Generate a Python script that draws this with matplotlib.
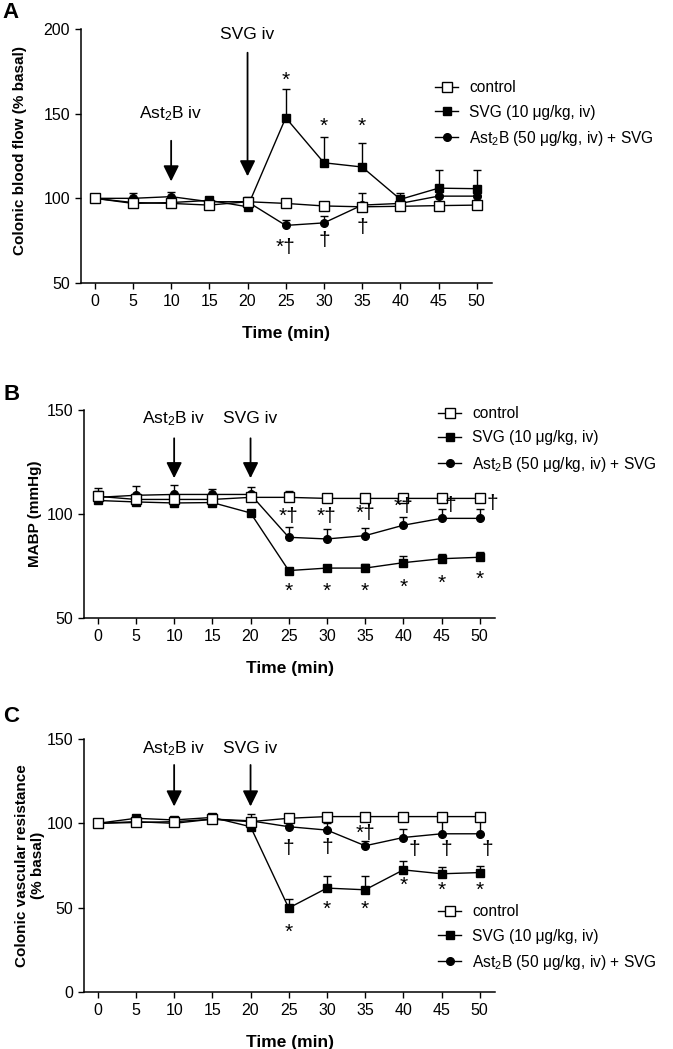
import matplotlib
matplotlib.use("Agg")
import matplotlib.pyplot as plt
import numpy as np

plt.rcParams['font.family'] = ['Liberation Sans', 'DejaVu Sans']
plt.rcParams['mathtext.default'] = 'regular'

# ---------------- data ----------------
time = [0, 5, 10, 15, 20, 25, 30, 35, 40, 45, 50]
labels = ['control', 'SVG (10 \u03bcg/kg, iv)', 'Ast$_2$B (50 \u03bcg/kg, iv) + SVG']

# A: colonic blood flow (% basal)
flow_ctrl = [100, 97.5, 97, 96, 98, 97, 95.5, 95, 95.3, 95.7, 96]
flow_ctrl_err = [0, 1, 1, 1, 2, 1, 1, 1, 1, 1, 1]
flow_svg = [100, 97, 97.5, 98.8, 95, 147.6, 121, 118.5, 99.4, 106, 105.7]
flow_svg_err = [0, 1, 1, 1, 1, 17, 15, 14, 4, 10.5, 11]
flow_ast = [100, 100, 101, 98, 98, 84, 85.5, 96, 97, 101.3, 101.3]
flow_ast_err = [0, 3, 2.5, 1, 3, 3.5, 4, 7, 3, 3, 3]

# B: MABP (mmHg)
mabp_ctrl = [108.5, 107, 107, 107, 108, 108, 107.5, 107.5, 107.5, 107.5, 107.5]
mabp_ctrl_err = [4, 2, 2, 2, 2, 3, 1, 1.5, 2, 2, 2]
mabp_svg = [106.5, 105.8, 105.3, 105.5, 100.5, 72.8, 74, 74, 76.6, 78.5, 79.2]
mabp_svg_err = [1, 1, 1, 1, 1, 1, 1, 2, 3, 2.3, 2.5]
mabp_ast = [108, 109, 109.4, 109.4, 109.4, 88.8, 88, 89.6, 94.6, 97.9, 97.9]
mabp_ast_err = [3, 4.7, 4.6, 2.4, 3.6, 5.1, 4.6, 3.5, 4.1, 4.3, 4.3]

# C: colonic vascular resistance (% basal)
cvr_ctrl = [100, 100.5, 101, 102.4, 101, 103, 104, 104, 104, 104, 104]
cvr_ctrl_err = [0, 1, 1, 1, 1, 2, 1, 1, 1, 1, 1]
cvr_svg = [100, 103, 102, 103.5, 98, 49.8, 61.6, 60.6, 72.4, 70.1, 70.8]
cvr_svg_err = [0, 1, 1, 1, 1, 5.3, 6.9, 8.3, 5, 3.9, 4]
cvr_ast = [100, 101, 100, 102.5, 101.5, 98, 96, 86.7, 91.6, 93.8, 93.8]
cvr_ast_err = [0, 1, 1, 1, 3.9, 1, 4, 3.1, 5.1, 10.2, 10.2]

# significance marks (time, value, text)
marks_a = [(25, 172, '*'), (30, 145, '*'), (35, 145, '*'),
           (25, 71, '*\u2020'), (30, 75, '\u2020'), (35, 83, '\u2020')]
marks_b = [(25, 98.7, '*\u2020'), (30, 98.7, '*\u2020'), (35, 100.3, '*\u2020'),
           (40, 103.5, '*\u2020'), (46.2, 104.3, '\u2020'), (51.6, 105.1, '\u2020'),
           (25, 65, '*'), (30, 65, '*'), (35, 65, '*'), (40, 66.7, '*'),
           (45, 68.6, '*'), (50, 70.7, '*')]
marks_c = [(25, 85.3, '\u2020'), (30, 85.8, '\u2020'), (35, 94.2, '*\u2020'),
           (41.4, 84.3, '\u2020'), (45.7, 84.3, '\u2020'), (51, 84.3, '\u2020'),
           (25, 37.9, '*'), (30, 51.7, '*'), (35, 51.7, '*'), (40, 65.5, '*'),
           (45, 62.6, '*'), (50, 62.6, '*')]

# ---------------- figure ----------------
fig = plt.figure(figsize=(6.73, 10.49), dpi=100)
W, H = 673, 1049


def px_axes(l, r, t, b):
    return fig.add_axes([l / W, 1 - b / H, (r - l) / W, (b - t) / H])


def panel(ax, ctrl, ce, svg, se, ast, ae, ylim, yticks, ylabel, marks,
          arrows, leg_y, letter):
    ax.errorbar(time, ast, yerr=[np.zeros(len(ae)), ae], fmt='none',
                ecolor='k', elinewidth=1, capsize=3, capthick=1)
    ax.errorbar(time, svg, yerr=[np.zeros(len(se)), se], fmt='none',
                ecolor='k', elinewidth=1, capsize=3, capthick=1)
    ax.errorbar(time, ctrl, yerr=[np.zeros(len(ce)), ce], fmt='none',
                ecolor='k', elinewidth=1, capsize=3, capthick=1)
    l3, = ax.plot(time, ast, color='k', lw=1, marker='o', ms=5.5,
                  mfc='k', mec='k', label=labels[2])
    l2, = ax.plot(time, svg, color='k', lw=1, marker='s', ms=5.5,
                  mfc='k', mec='k', label=labels[1])
    l1, = ax.plot(time, ctrl, color='k', lw=1, marker='s', ms=6.5,
                  mfc='white', mec='k', mew=1, label=labels[0])

    for x, y, t in marks:
        # a lone asterisk sits high in its glyph box, so nudge it down
        dy = -3 if t == '*' else 0
        ax.annotate(t, (x, y), xytext=(0, dy), textcoords='offset points',
                    ha='center', va='center', fontsize=15)

    for x, ytxt, y0, y1, txt in arrows:
        ax.text(x, ytxt, txt, ha='center', va='center', fontsize=12.5)
        ax.annotate('', xy=(x, y1), xytext=(x, y0),
                    arrowprops=dict(arrowstyle='-|>,head_length=0.95,head_width=0.47',
                                    color='k', lw=1.3, mutation_scale=10,
                                    shrinkA=0, shrinkB=0))

    ax.set_xlim(-1.8, 52)
    ax.set_ylim(*ylim)
    ax.set_xticks(time)
    ax.set_yticks(yticks)
    ax.tick_params(direction='out', length=4, width=1, labelsize=11.5, pad=4)
    for s in ['top', 'right']:
        ax.spines[s].set_visible(False)
    for s in ['left', 'bottom']:
        ax.spines[s].set_linewidth(1.1)
    ax.set_xlabel('Time (min)', fontsize=12.5, fontweight='bold', labelpad=12)
    ax.set_ylabel(ylabel, fontsize=11, fontweight='bold', ha='center')

    ax.legend(handles=[l1, l2, l3], loc='center left', bbox_to_anchor=(0.861, leg_y),
              frameon=False, fontsize=11.2, borderpad=0, borderaxespad=0,
              handlelength=1.5, handletextpad=0.7, labelspacing=0.6)
    return ax.text(-0.195, 1.04, letter, transform=ax.transAxes, fontsize=16,
                   fontweight='bold', va='baseline')


ax_a = px_axes(81, 492, 29, 283)
let_a = panel(ax_a, flow_ctrl, flow_ctrl_err, flow_svg, flow_svg_err, flow_ast, flow_ast_err,
              (50, 200), [50, 100, 150, 200], 'Colonic blood flow (% basal)', marks_a,
              [(10, 150, 134, 110, 'Ast$_2$B iv'), (20, 197, 186, 113, 'SVG iv')],
              0.665, 'A')
ax_a.yaxis.set_label_coords(-0.131, 0.52)
let_a.set_position((-0.19, 1.043))

ax_b = px_axes(84, 495, 410, 618)
let_b = panel(ax_b, mabp_ctrl, mabp_ctrl_err, mabp_svg, mabp_svg_err, mabp_ast, mabp_ast_err,
              (50, 150), [50, 100, 150], 'MABP (mmHg)', marks_b,
              [(10, 146, 136.4, 117.2, 'Ast$_2$B iv'), (20, 146, 136.4, 117.2, 'SVG iv')],
              0.856, 'B')
ax_b.yaxis.set_label_coords(-0.102, 0.5)
let_b.set_position((-0.197, 1.048))

ax_c = px_axes(84, 495, 739, 992)
let_c = panel(ax_c, cvr_ctrl, cvr_ctrl_err, cvr_svg, cvr_svg_err, cvr_ast, cvr_ast_err,
              (0, 150), [0, 50, 100, 150], 'Colonic vascular resistance\n(% basal)', marks_c,
              [(10, 144.5, 134.6, 110, 'Ast$_2$B iv'), (20, 144.5, 134.6, 110, 'SVG iv')],
              0.213, 'C')
ax_c.yaxis.set_label_coords(-0.095, 0.5)
let_c.set_position((-0.197, 1.067))

fig.savefig('out.png', dpi=100)
